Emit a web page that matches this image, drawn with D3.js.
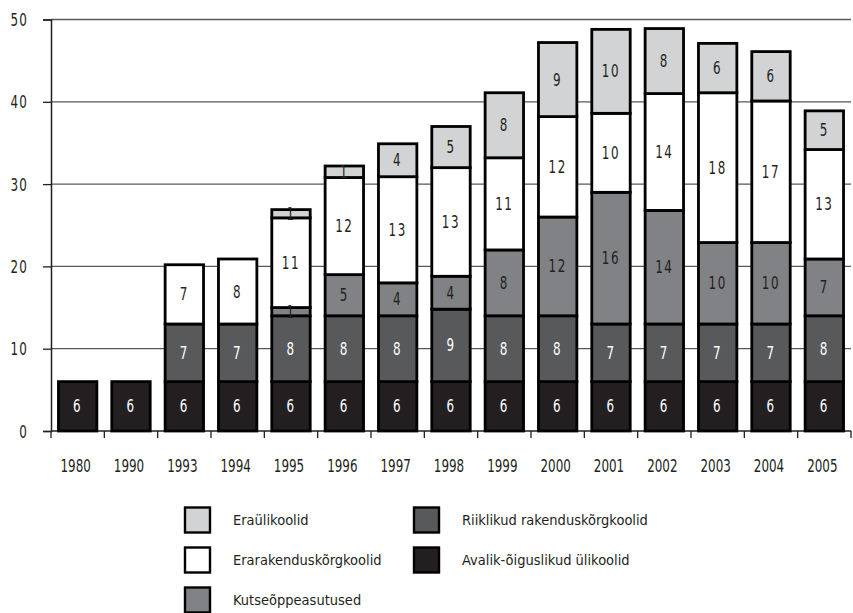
<!DOCTYPE html>
<html><head><meta charset="utf-8">
<script src="https://cdn.jsdelivr.net/npm/d3@7"></script>
<style>
body{margin:0;background:#fff;}
text{font-family:"DejaVu Sans Condensed","DejaVu Sans",sans-serif;}
</style></head>
<body><svg id="c" width="853" height="613"></svg>
<script>
const years = ["1980","1990","1993","1994","1995","1996","1997","1998","1999","2000","2001","2002","2003","2004","2005"];
const avalik    = [6,6,6,6,6,6,6,6,6,6,6,6,6,6,6];
const riiklikud = [0,0,7,7,8,8,8,8.8,8,8,7,7,7,7,8];
const kutse     = [0,0,0,0,1,5,4,4,8,12,16,13.8,9.9,9.9,6.9];
const erarak    = [0,0,7.2,7.9,10.9,11.8,12.9,13.2,11.2,12.2,9.6,14.2,18.2,17.2,13.3];
const eraul     = [0,0,0,0,1,1.4,4,5,7.9,9,10.2,7.9,6,6,4.7];
const yTicks = [0,10,20,30,40,50];

const seriesDefs = [
  {key:"avalik", name:"Avalik-õiguslikud ülikoolid", values:avalik, color:"#231f20", text:"#ffffff"},
  {key:"riiklikud", name:"Riiklikud rakenduskõrgkoolid", values:riiklikud, color:"#58595b", text:"#ffffff"},
  {key:"kutse", name:"Kutseõppeasutused", values:kutse, color:"#808285", text:"#231f20"},
  {key:"erarak", name:"Erarakenduskõrgkoolid", values:erarak, color:"#ffffff", text:"#231f20"},
  {key:"eraul", name:"Eraülikoolid", values:eraul, color:"#d1d3d4", text:"#231f20"}
];

const table = years.map((yr,i)=>{const o={year:yr}; seriesDefs.forEach(s=>o[s.key]=s.values[i]); return o;});
const stack = d3.stack().keys(seriesDefs.map(s=>s.key))(table);

const svg = d3.select("#c");
const mLeft=51, mRight=851, mTop=19.5, mBottom=431;
const x = d3.scaleBand().domain(years).range([mLeft,mRight]).paddingInner(0.28).paddingOuter(0.14);
const y = d3.scaleLinear().domain([0,50]).range([mBottom,mTop]);
const SX = 0.78; // narrow digits

// gridlines
svg.append("g").selectAll("line").data(yTicks.filter(d=>d>0)).join("line")
  .attr("x1",mLeft).attr("x2",mRight).attr("y1",d=>y(d)).attr("y2",d=>y(d))
  .attr("stroke","#58595b").attr("stroke-width",1.3);

// y axis
const yAxis = svg.append("g").attr("transform",`translate(${mLeft},0)`)
  .call(d3.axisLeft(y).tickValues(yTicks).tickSize(8).tickFormat(d3.format("d")));
yAxis.select(".domain").attr("stroke","#231f20").attr("stroke-width",1.5);
yAxis.selectAll(".tick line").attr("stroke","#231f20").attr("stroke-width",1.3);
yAxis.selectAll(".tick text")
  .attr("x",null).attr("dy",null)
  .attr("transform",`translate(-23,6) scale(${SX},1)`)
  .attr("font-size",17).attr("fill","#231f20").attr("letter-spacing",1.5);

// x axis
const xb = d3.scaleLinear().domain([0,years.length]).range([mLeft,mRight]);
const xAxisG = svg.append("g");
xAxisG.append("line").attr("x1",mLeft).attr("x2",mRight).attr("y1",mBottom).attr("y2",mBottom)
  .attr("stroke","#231f20").attr("stroke-width",1.5);
xAxisG.selectAll("line.t").data(d3.range(years.length+1)).join("line").attr("class","t")
  .attr("x1",d=>xb(d)).attr("x2",d=>xb(d)).attr("y1",mBottom).attr("y2",mBottom+7)
  .attr("stroke","#231f20").attr("stroke-width",1.3);
xAxisG.selectAll("text").data(years).join("text")
  .attr("transform",d=>`translate(${x(d)+x.bandwidth()/2-2},472) scale(${SX},1)`)
  .attr("text-anchor","middle").attr("font-size",17).attr("fill","#231f20").text(d=>d);

// bars
stack.forEach((layer,li)=>{
  const s = seriesDefs[li];
  const g = svg.append("g");
  const segs = layer.map((d,i)=>({y0:d[0],y1:d[1],year:years[i],v:s.values[i]})).filter(d=>d.v>0);
  g.selectAll("rect").data(segs).join("rect")
    .attr("x",d=>x(d.year)).attr("width",x.bandwidth())
    .attr("y",d=>y(d.y1)).attr("height",d=>y(d.y0)-y(d.y1))
    .attr("fill",s.color).attr("stroke","#000").attr("stroke-width",2.8);
});
stack.forEach((layer,li)=>{
  const s = seriesDefs[li];
  const segs = layer.map((d,i)=>({y0:d[0],y1:d[1],year:years[i],v:s.values[i]})).filter(d=>d.v>0);
  svg.append("g").selectAll("text").data(segs).join("text")
    .attr("transform",d=>`translate(${x(d.year)+x.bandwidth()/2},${y((d.y0+d.y1)/2)+6}) scale(${SX},1)`)
    .attr("text-anchor","middle").attr("font-size",17).attr("letter-spacing",2)
    .attr("fill",s.text).text(d=>Math.round(d.v));
});

// legend
const legendItems = [
  {s:seriesDefs[4], col:0, row:0},
  {s:seriesDefs[3], col:0, row:1},
  {s:seriesDefs[2], col:0, row:2},
  {s:seriesDefs[1], col:1, row:0},
  {s:seriesDefs[0], col:1, row:1}
];
const colX=[185,414], rowY=[520,560,600];
const lg = svg.append("g");
legendItems.forEach(it=>{
  lg.append("rect").attr("x",colX[it.col]).attr("y",rowY[it.row]-12.5).attr("width",25).attr("height",25)
    .attr("fill",it.s.color).attr("stroke","#000").attr("stroke-width",2.4);
  lg.append("text").attr("x",colX[it.col]+48).attr("y",rowY[it.row]+5)
    .attr("font-size",14.5).attr("fill","#231f20").text(it.s.name);
});
</script></body></html>
